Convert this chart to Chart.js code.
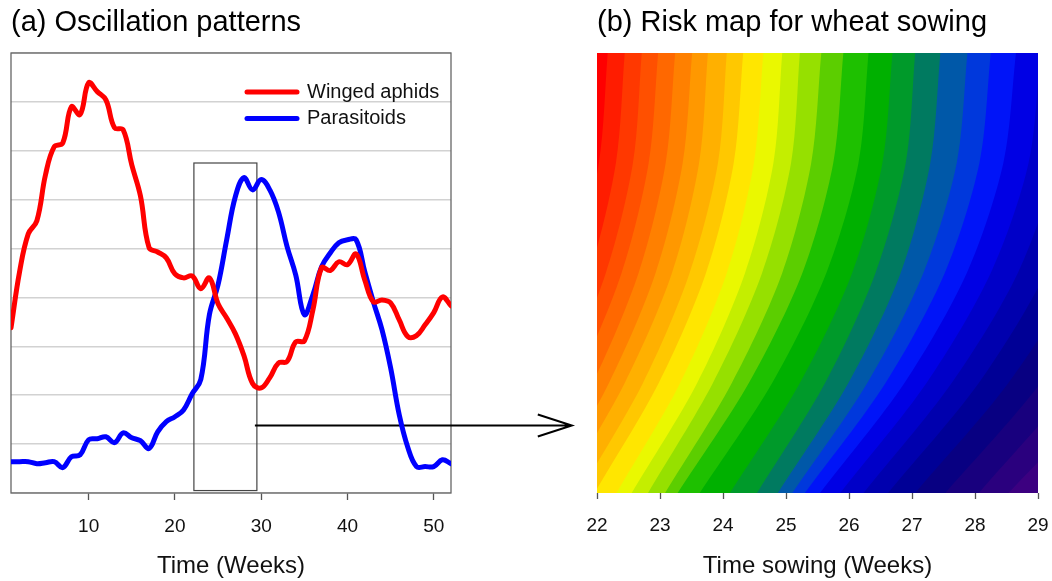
<!DOCTYPE html>
<html>
<head>
<meta charset="utf-8">
<script src="https://cdn.jsdelivr.net/npm/chart.js"></script>
<style>
  html, body { margin: 0; padding: 0; background: #fff; }
  #wrap { position: relative; width: 1052px; height: 581px; }
  canvas { position: absolute; left: 0; top: 0; }
</style>
</head>
<body>
<div id="wrap">
  <canvas id="chartA" width="1052" height="581"></canvas>
  <canvas id="chartB" width="1052" height="581"></canvas>
</div>
<script>
// ---- panel (a): weekly series ----
const weeks = [1,2,3,4,5,6,7,8,9,10,11,12,13,14,15,16,17,18,19,20,21,22,23,24,25,26,
  27,28,29,30,31,32,33,34,35,36,37,38,39,40,41,42,43,44,45,46,47,48,49,50,51,52];
const aphids = [3.38,4.53,5.30,5.57,6.51,7.08,7.16,7.90,7.74,8.39,8.21,8.04,7.47,7.43,6.71,6.08,
  5.02,4.93,4.81,4.48,4.40,4.44,4.18,4.40,3.87,3.58,3.26,2.81,2.24,2.15,2.36,2.66,2.69,3.09,
  3.11,3.75,4.61,4.55,4.73,4.67,4.89,4.36,3.91,3.95,3.89,3.54,3.20,3.22,3.44,3.69,4.01,3.83];
const parasitoids = [0.64,0.64,0.64,0.60,0.62,0.64,0.52,0.74,0.78,1.09,1.11,1.15,1.03,1.23,1.13,
  1.07,0.91,1.25,1.46,1.56,1.70,2.03,2.32,3.65,4.26,5.18,6.06,6.45,6.20,6.41,6.20,5.75,5.04,
  4.46,3.65,4.06,4.63,4.91,5.12,5.18,5.18,4.53,3.91,3.34,2.56,1.60,0.93,0.54,0.54,0.54,0.68,0.60];
const weekTicks = [10, 20, 30, 40, 50];
const boxWeeks = [22.2, 29.5];
const boxLevels = [0.05, 6.75];
const arrowLevel = 1.38;
const arrowTip = 21.6;   // in sowing weeks, on panel (b) axis

// ---- panel (b): risk bands ----
const sowingTicks = [22, 23, 24, 25, 26, 27, 28, 29];
const riskLevels = [0, 0.25, 0.5, 0.75, 1];
const bandColors = ['#FF0000','#FF1C00','#FF3800','#FF5000','#FF6800','#FF8000','#FF9800',
  '#FFB000','#FFC800','#FFE600','#EAF800','#C4EE00','#96E000','#5CCE00','#1EC000','#00B000',
  '#009A2A','#007A60','#0058A8','#0038DC','#0014F8','#0000E4','#0000C8','#0000AE','#000096',
  '#080082','#18007E','#2A007E','#3C0080'];
// x position of each band edge at riskLevels (bottom -> top)
const riskEdges = [
  [19.94, 20.90, 21.61, 22.03, 22.17],
  [20.21, 21.17, 21.88, 22.30, 22.44],
  [20.45, 21.42, 22.14, 22.57, 22.71],
  [20.69, 21.66, 22.39, 22.82, 22.97],
  [20.95, 21.93, 22.66, 23.09, 23.24],
  [21.20, 22.19, 22.93, 23.36, 23.51],
  [21.44, 22.44, 23.19, 23.62, 23.76],
  [21.72, 22.73, 23.47, 23.92, 24.06],
  [21.96, 22.98, 23.73, 24.17, 24.32],
  [22.31, 23.32, 24.06, 24.49, 24.64],
  [22.55, 23.59, 24.35, 24.80, 24.94],
  [22.81, 23.84, 24.62, 25.08, 25.22],
  [23.08, 24.14, 24.94, 25.40, 25.56],
  [23.28, 24.41, 25.26, 25.75, 25.91],
  [23.63, 24.78, 25.64, 26.15, 26.31],
  [24.11, 25.22, 26.05, 26.53, 26.69],
  [24.54, 25.62, 26.42, 26.90, 27.05],
  [24.87, 25.99, 26.82, 27.29, 27.45],
  [25.10, 26.29, 27.18, 27.71, 27.88],
  [25.30, 26.58, 27.52, 28.07, 28.25],
  [25.54, 26.88, 27.87, 28.45, 28.65],
  [25.86, 27.23, 28.25, 28.85, 29.04],
  [26.23, 27.63, 28.68, 29.28, 29.49],
  [26.62, 28.06, 29.12, 29.76, 29.97],
  [27.05, 28.53, 29.62, 30.27, 30.47],
  [27.53, 29.04, 30.16, 30.82, 31.03],
  [28.06, 29.57, 30.71, 31.38, 31.59],
  [28.53, 30.16, 31.32, 32.00, 32.22]
];

Chart.defaults.font.family = "'Liberation Sans', Arial, sans-serif";
Chart.defaults.color = '#111';
Chart.defaults.animation = false;

// fixed axis box; labels may overhang the plot edges
function bottomAxisFit(s) {
  s.height = 88;
  s.paddingLeft = 0;
  s.paddingRight = 0;
}

// paint the first band behind the others
const bandBackground = {
  id: 'bandBackground',
  beforeDatasetsDraw(chart) {
    const { ctx, chartArea: a } = chart;
    ctx.save();
    ctx.fillStyle = bandColors[0];
    ctx.fillRect(a.left, a.top, a.right - a.left, a.bottom - a.top);
    ctx.restore();
  }
};

const riskSets = riskEdges.map((xs, i) => {
  const pts = riskLevels.map((lv, j) => ({ x: xs[j], y: lv }));
  // run each edge a little past the plot so the clipped ends stay straight
  pts.unshift({ x: xs[0] - (xs[1] - xs[0]) * 0.4, y: -0.1 });
  pts.push({ x: xs[4] + (xs[4] - xs[3]) * 0.4, y: 1.1 }, { x: 40, y: 1.1 });
  return {
    data: pts,
    backgroundColor: bandColors[i + 1],
    borderColor: 'rgba(0,0,0,0)',
    borderWidth: 0,
    pointRadius: 0,
    tension: 0.3,
    fill: 'start',
    clip: 0,
    order: -(i + 1)
  };
});

const chartB = new Chart(document.getElementById('chartB'), {
  type: 'line',
  data: { datasets: riskSets },
  plugins: [bandBackground],
  options: {
    responsive: false,
    devicePixelRatio: 1,
    layout: { padding: { left: 597, right: 14, top: 0, bottom: 0 } },
    plugins: {
      legend: { display: false },
      tooltip: { enabled: false },
      title: {
        display: true, text: '(b) Risk map for wheat sowing', align: 'start',
        color: '#000', font: { size: 29, weight: 'normal' },
        padding: { top: 6, bottom: 12.2 }
      }
    },
    scales: {
      x: {
        type: 'linear', min: 22, max: 29,
        afterBuildTicks: s => { s.ticks = sowingTicks.map(v => ({ value: v })); },
        afterFit: bottomAxisFit,
        grid: { drawOnChartArea: false, tickLength: 6, tickColor: '#555', tickWidth: 1.3 },
        border: { display: false },
        ticks: { font: { size: 19 }, color: '#111', padding: 15, maxRotation: 0 },
        title: { display: true, text: 'Time sowing (Weeks)', font: { size: 24 }, color: '#111',
                 padding: { top: 0, bottom: 0 } }
      },
      y: { type: 'linear', min: 0, max: 1, display: false }
    }
  }
});

// frame, zoom window and arrow of panel (a)
const panelA = {
  id: 'panelA',
  beforeDatasetsDraw(chart) {
    const { ctx, chartArea: a, scales: { x, y } } = chart;
    ctx.save();
    ctx.strokeStyle = '#666';
    ctx.lineWidth = 1.3;
    ctx.strokeRect(a.left, a.top, a.right - a.left, a.bottom - a.top);

    ctx.strokeStyle = '#444';
    ctx.lineWidth = 1.2;
    const bx0 = x.getPixelForValue(boxWeeks[0]), bx1 = x.getPixelForValue(boxWeeks[1]);
    const by0 = y.getPixelForValue(boxLevels[1]), by1 = y.getPixelForValue(boxLevels[0]);
    ctx.strokeRect(bx0, by0, bx1 - bx0, by1 - by0);

    const ay = y.getPixelForValue(arrowLevel);
    const tip = chartB.scales.x.getPixelForValue(arrowTip);
    ctx.strokeStyle = '#000';
    ctx.lineWidth = 2;
    ctx.beginPath();
    ctx.moveTo(bx1 - 2, ay);
    ctx.lineTo(tip, ay);
    ctx.moveTo(tip - 34, ay - 11);
    ctx.lineTo(tip, ay);
    ctx.lineTo(tip - 34, ay + 11);
    ctx.stroke();
    ctx.restore();
  },
  afterDatasetsDraw(chart) {
    const { ctx, chartArea: a } = chart;
    const x0 = a.left + 236, y0 = a.top + 39;
    ctx.save();
    ctx.font = "20px 'Liberation Sans', Arial, sans-serif";
    ctx.textBaseline = 'middle';
    chart.data.datasets.forEach((ds, i) => {
      const yy = y0 + i * 26.5;
      ctx.strokeStyle = ds.borderColor;
      ctx.lineWidth = 5;
      ctx.lineCap = 'round';
      ctx.beginPath();
      ctx.moveTo(x0, yy);
      ctx.lineTo(x0 + 50, yy);
      ctx.stroke();
      ctx.fillStyle = '#111';
      ctx.fillText(ds.label, x0 + 60, yy);
    });
    ctx.restore();
  }
};

new Chart(document.getElementById('chartA'), {
  type: 'line',
  data: {
    labels: weeks,
    datasets: [
      { label: 'Winged aphids', data: aphids, borderColor: '#FF0000', borderWidth: 5,
        pointRadius: 0, tension: 0.4, fill: false, borderJoinStyle: 'round', borderCapStyle: 'round' },
      { label: 'Parasitoids', data: parasitoids, borderColor: '#0000FF', borderWidth: 5,
        pointRadius: 0, tension: 0.4, fill: false, borderJoinStyle: 'round', borderCapStyle: 'round' }
    ]
  },
  plugins: [panelA],
  options: {
    responsive: false,
    devicePixelRatio: 1,
    layout: { padding: { left: 11, right: 601, top: 0, bottom: 0 } },
    plugins: {
      legend: { display: false },
      tooltip: { enabled: false },
      title: {
        display: true, text: '(a) Oscillation patterns', align: 'start',
        color: '#000', font: { size: 29, weight: 'normal' },
        padding: { top: 6, bottom: 12.2 }
      }
    },
    scales: {
      x: {
        type: 'linear', min: 1, max: 52,
        afterBuildTicks: s => { s.ticks = weekTicks.map(v => ({ value: v })); },
        afterFit: bottomAxisFit,
        grid: { drawOnChartArea: false, tickLength: 7, tickColor: '#555', tickWidth: 1.3 },
        border: { display: false },
        ticks: { font: { size: 19 }, color: '#111', padding: 15, maxRotation: 0 },
        title: { display: true, text: 'Time (Weeks)', font: { size: 24 }, color: '#111',
                 padding: { top: 0, bottom: 0 } }
      },
      y: {
        min: 0, max: 9,
        ticks: { stepSize: 1, display: false },
        grid: { color: '#d2d2d2', lineWidth: 1.6, drawTicks: false },
        border: { display: false },
        afterFit: s => { s.width = 0; }
      }
    }
  }
});
</script>
</body>
</html>
